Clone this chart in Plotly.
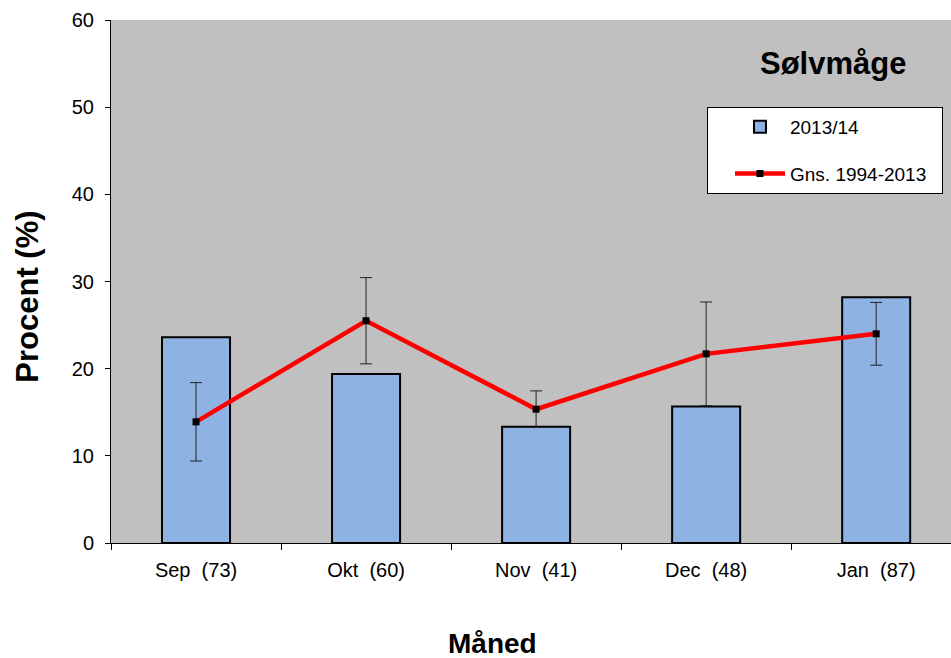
import plotly.graph_objects as go

months = ["Sep \u00a0(73)", "Okt \u00a0(60)", "Nov \u00a0(41)", "Dec \u00a0(48)", "Jan \u00a0(87)"]
season_2013_14 = [23.6, 19.4, 13.35, 15.65, 28.2]
mean_1994_2013 = [13.9, 25.5, 15.35, 21.7, 24.0]
mean_err = [4.5, 4.95, 2.1, 5.95, 3.6]

FONT = "Liberation Sans, Arial, sans-serif"

fig = go.Figure()
fig.add_trace(go.Bar(
    x=months, y=season_2013_14, name="2013/14",
    marker=dict(color="#8EB3E2", line=dict(color="black", width=2)),
    width=0.4, legendgroup="a",
))
fig.add_trace(go.Scatter(
    x=months, y=mean_1994_2013, name="Gns. 1994-2013\u00a0\u00a0",
    mode="lines+markers", legendgroup="b",
    line=dict(color="#FF0000", width=4.5),
    marker=dict(color="black", symbol="square", size=7),
    error_y=dict(type="data", array=mean_err, visible=True,
                 color="#222222", thickness=1, width=6),
))

fig.add_annotation(text="<b>Sølvmåge</b>", x=0.8596, y=0.916,
                   xref="paper", yref="paper", showarrow=False,
                   xanchor="center", yanchor="middle",
                   font=dict(family=FONT, size=31, color="black"))
fig.add_annotation(text="<b>Måned</b>", x=0.4536, y=-0.193,
                   xref="paper", yref="paper", showarrow=False,
                   xanchor="center", yanchor="middle",
                   font=dict(family=FONT, size=28, color="black"))
fig.add_annotation(text="<b>Procent (%)</b>", x=-0.0988, y=0.471,
                   xref="paper", yref="paper", showarrow=False, textangle=-90,
                   xanchor="center", yanchor="middle",
                   font=dict(family=FONT, size=31, color="black"))

fig.update_layout(
    width=951, height=658,
    margin=dict(l=111, r=0, t=20, b=115, autoexpand=False),
    paper_bgcolor="white", plot_bgcolor="#C0C0C0",
    font=dict(family=FONT, color="black"),
    showlegend=True,
    legend=dict(x=0.7095, y=0.8337, xanchor="left", yanchor="top",
                bgcolor="white", bordercolor="black", borderwidth=1,
                font=dict(family=FONT, size=19, color="black"),
                itemwidth=50, tracegroupgap=19, indentation=22,
                traceorder="grouped"),
)
fig.update_xaxes(
    type="category", range=[-0.5, 4.44], automargin=False,
    showline=True, linecolor="black", linewidth=1,
    ticks="outside", ticklen=6, tickcolor="black", tickson="boundaries",
    tickfont=dict(family=FONT, size=20, color="black"),
    ticklabelstandoff=9,
    showgrid=False, zeroline=False,
)
fig.update_yaxes(
    range=[0, 60], tickmode="linear", tick0=0, dtick=10, automargin=False,
    showline=True, linecolor="black", linewidth=1,
    ticks="outside", ticklen=5, tickcolor="black",
    tickfont=dict(family=FONT, size=20, color="black"),
    ticklabelstandoff=7,
    showgrid=False, zeroline=False,
)

# remove the default page margin so the figure fills the window exactly
fig.write_html("out.html", config={"displayModeBar": False},
               post_script="document.body.style.margin='0';document.body.style.overflow='hidden';")
